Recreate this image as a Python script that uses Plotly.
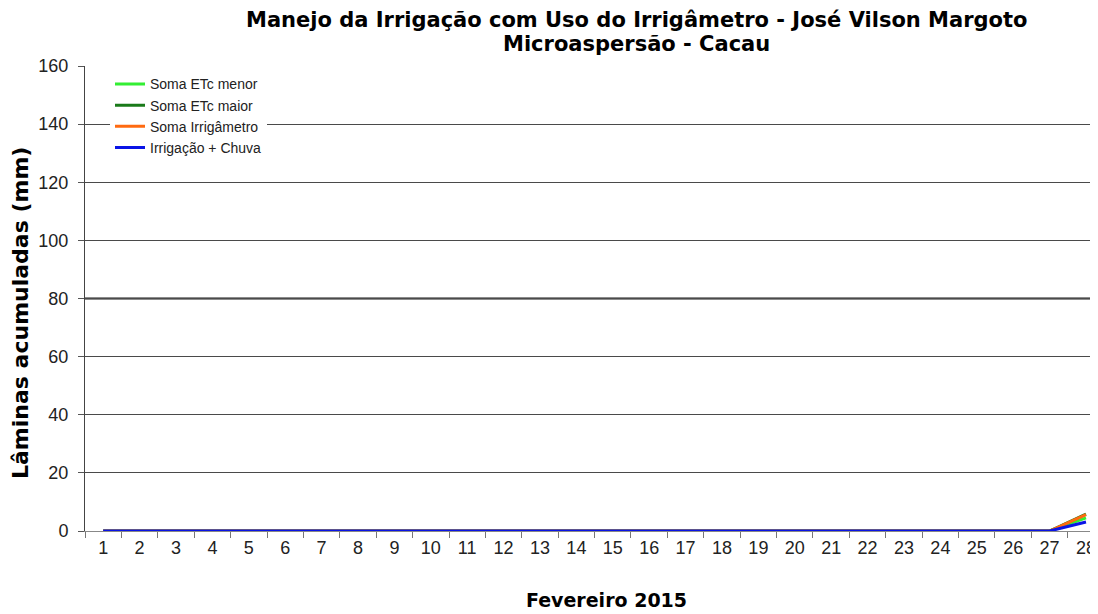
import plotly.graph_objects as go

days = [str(d) for d in range(1, 29)]
etc_menor = [0]*26 + [0, 4.5]
etc_maior = [0]*26 + [0, 5.8]
irrigametro = [0]*26 + [0, 5.6]
irrig_chuva = [0]*26 + [0, 3.1]

series = [
    ("Soma ETc menor", etc_menor, "#33ee33"),
    ("Soma ETc maior", etc_maior, "#1a7a1a"),
    ("Soma Irrigâmetro", irrigametro, "#ff6a10"),
    ("Irrigação + Chuva", irrig_chuva, "#0a14e6"),
]

fig = go.Figure()
for name, vals, color in series:
    fig.add_trace(go.Scatter(x=days, y=vals, name=name, mode="lines",
                             line=dict(color=color, width=3)))

# page body has an 8px margin: figure coords = window coords - 8
W, H = 1090, 606
L, R, T, B = 77, 0, 58, 83
pw = W - L - R

def px_x(wx):
    # window x -> paper fraction
    return (wx - 8 - L) / pw

TF = "DejaVu Sans, Liberation Sans, Arial, sans-serif"
AF = "Liberation Sans, Arial, sans-serif"

fig.update_layout(
    width=W, height=H,
    margin=dict(l=L, r=R, t=T, b=B),
    paper_bgcolor="white", plot_bgcolor="white",
    font=dict(family=AF, color="#222"),
    showlegend=True,
    legend=dict(x=px_x(110), y=0.995, xanchor="left", yanchor="top",
                bgcolor="white", font=dict(size=14, color="#222", family=AF),
                tracegroupgap=0, itemwidth=30),
    xaxis=dict(type="category", categoryorder="array", categoryarray=days,
               range=[-0.5, 27.33], showgrid=False,
               ticks="outside", tickson="boundaries", ticklen=6, tickcolor="#777",
               showline=True, linecolor="#888", linewidth=1,
               tickfont=dict(size=18, color="#222"), zeroline=False),
    yaxis=dict(range=[0, 160], dtick=20, showgrid=True, gridcolor="#4a4a4a", gridwidth=1,
               ticks="outside", ticklen=6, tickcolor="#555", ticklabelstandoff=6,
               showline=True, linecolor="#444", linewidth=1, zeroline=False,
               tickfont=dict(size=18, color="#222")),
)

fig.add_shape(type="line", xref="paper", yref="y", x0=0, x1=1, y0=80, y1=80,
              line=dict(color="#1a1a1a", width=2), layer="below")

fig.add_annotation(xref="paper", yref="paper", x=px_x(636), y=1,
                   yshift=46, text="<b>Manejo da Irrigação com Uso do Irrigâmetro - José Vilson Margoto</b>",
                   showarrow=False, font=dict(size=21, color="black", family=TF),
                   xanchor="center", yanchor="middle")
fig.add_annotation(xref="paper", yref="paper", x=px_x(636), y=1,
                   yshift=22, text="<b>Microaspersão - Cacau</b>",
                   showarrow=False, font=dict(size=21, color="black", family=TF),
                   xanchor="center", yanchor="middle")
fig.add_annotation(xref="paper", yref="paper", x=px_x(606), y=0,
                   yshift=-69, text="<b>Fevereiro 2015</b>",
                   showarrow=False, font=dict(size=19, color="black", family=TF),
                   xanchor="center", yanchor="middle")
fig.add_annotation(xref="paper", yref="paper", x=0, xshift=-65, y=(531 - 313) / 465,
                   text="<b>Lâminas acumuladas (mm)</b>", textangle=-90,
                   showarrow=False, font=dict(size=22, color="black", family=TF),
                   xanchor="center", yanchor="middle")

fig.write_html("out.html")
